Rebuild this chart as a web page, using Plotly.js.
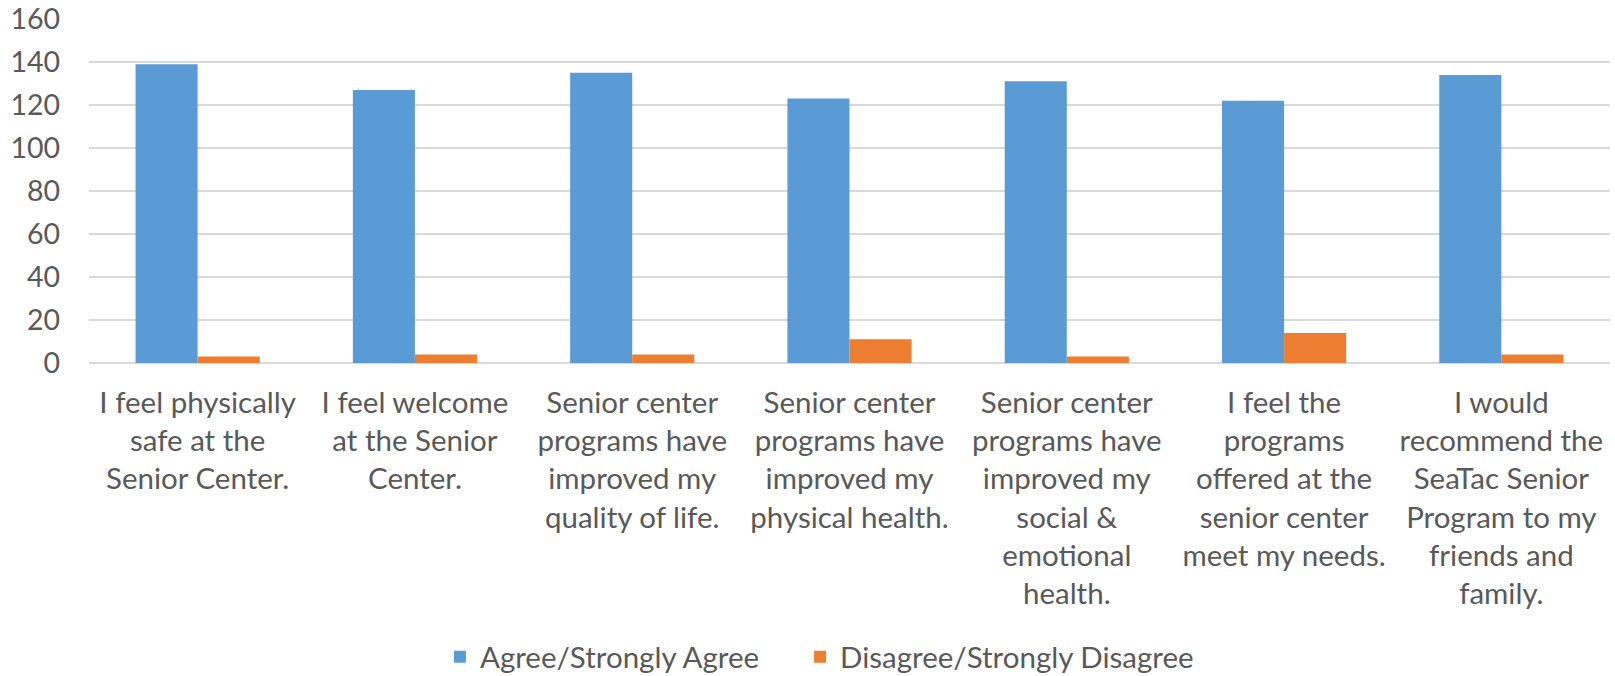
<!DOCTYPE html>
<html>
<head>
<meta charset="utf-8">
<script src="https://cdn.plot.ly/plotly-3.0.1.min.js"></script>
<style>
  html, body { margin: 0; padding: 0; background: #ffffff; }
  #chart { width: 1615px; height: 676px; }
</style>
</head>
<body>
<div id="chart"></div>
<script>
const categories = [
  "I feel physically<br>safe at the<br>Senior Center.",
  "I feel welcome<br>at the Senior<br>Center.",
  "Senior center<br>programs have<br>improved my<br>quality of life.",
  "Senior center<br>programs have<br>improved my<br>physical health.",
  "Senior center<br>programs have<br>improved my<br>social &<br>emotional<br>health.",
  "I feel the<br>programs<br>offered at the<br>senior center<br>meet my needs.",
  "I would<br>recommend the<br>SeaTac Senior<br>Program to my<br>friends and<br>family."
];
const agreeName = "Agree/Strongly Agree";
const disagreeName = "Disagree/Strongly Disagree";
const agree = [139, 127, 135, 123, 131, 122, 134];
const disagree = [3, 4, 4, 11, 3, 14, 4];
const yTicks = [0, 20, 40, 60, 80, 100, 120, 140, 160];

const FONT = "Lato, 'Open Sans', sans-serif";
const GREY = "#595959";

const traces = [
  { type: "bar", name: agreeName, x: categories, y: agree, legend: "legend",
    marker: { color: "#5B9BD5" }, hoverinfo: "y" },
  { type: "bar", name: disagreeName, x: categories, y: disagree, legend: "legend2",
    marker: { color: "#ED7D31" }, hoverinfo: "y" }
];

const legendBase = {
  orientation: "h", xref: "container", yref: "container",
  xanchor: "left", y: 0.028, yanchor: "middle",
  font: { family: FONT, size: 29.5, color: GREY },
  itemwidth: 30, bgcolor: "rgba(0,0,0,0)"
};

const layout = {
  width: 1615, height: 676,
  margin: { l: 89, r: 5, t: 19, b: 313 },
  paper_bgcolor: "#ffffff", plot_bgcolor: "#ffffff",
  barmode: "group", bargap: 0.4286, bargroupgap: 0,
  font: { family: FONT, size: 29.5, color: GREY },
  showlegend: true,
  legend: Object.assign({}, legendBase, { x: 0.2724 }),
  legend2: Object.assign({}, legendBase, { x: 0.4954 }),
  xaxis: {
    type: "category", tickangle: 0, showgrid: false, showline: false,
    ticks: "", ticklabelstandoff: 19,
    tickfont: { family: FONT, size: 29.5, color: GREY }, automargin: false
  },
  yaxis: {
    range: [0, 160], tickvals: yTicks, ticktext: yTicks.map(String),
    showgrid: true, gridcolor: "#d9d9d9", gridwidth: 1.6,
    zeroline: true, zerolinecolor: "#d9d9d9", zerolinewidth: 1.6,
    showline: false, ticks: "", ticklabelstandoff: 28,
    tickfont: { family: FONT, size: 28.5, color: GREY }, automargin: false
  }
};

Plotly.newPlot("chart", traces, layout, { displayModeBar: false, staticPlot: true });
</script>
</body>
</html>
